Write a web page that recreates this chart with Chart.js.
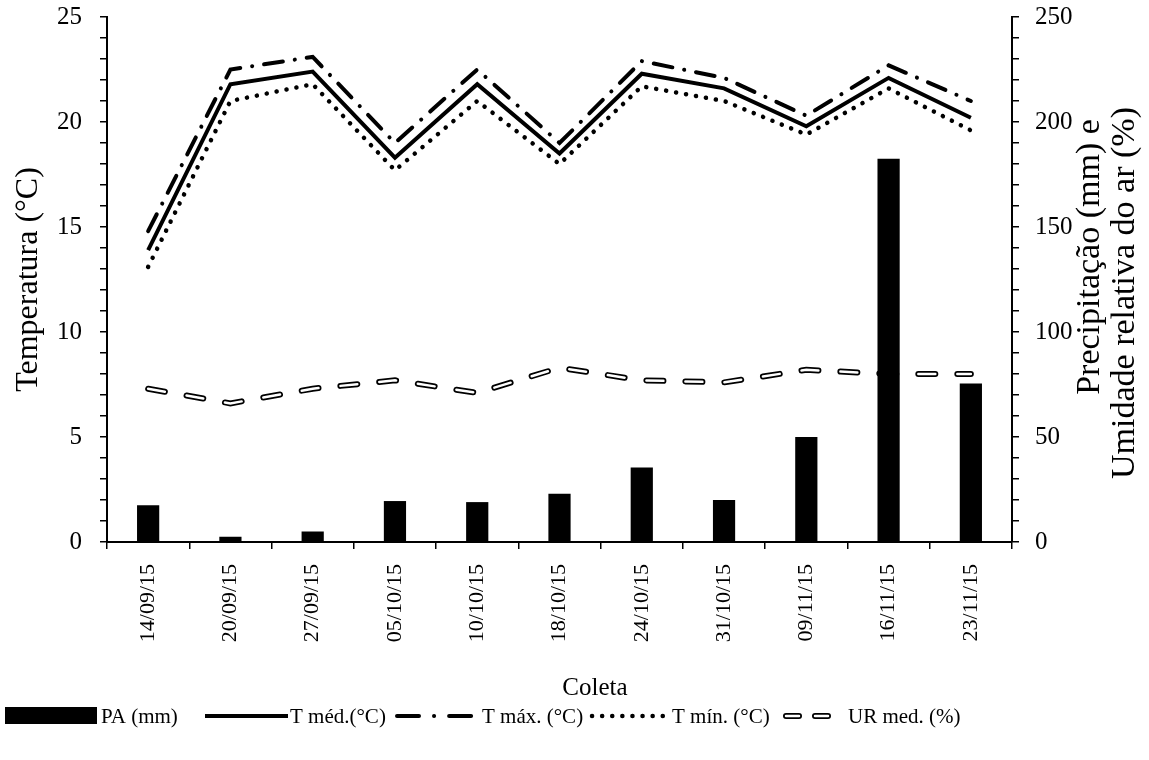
<!DOCTYPE html>
<html>
<head>
<meta charset="utf-8">
<script src="https://cdn.jsdelivr.net/npm/chart.js@4.4.1/dist/chart.umd.min.js"></script>
<style>
  html, body { margin: 0; padding: 0; background: #fff; }
  #wrap { width: 1149px; height: 760px; position: relative; }
</style>
</head>
<body>
<div id="wrap"><canvas id="myChart"></canvas></div>
<script>
// Collection dates
const coletas = ['14/09/15', '20/09/15', '27/09/15', '05/10/15', '10/10/15', '18/10/15',
  '24/10/15', '31/10/15', '09/11/15', '16/11/15', '23/11/15']

// Precipitation (mm) and mean relative humidity (%) - right axis
const pa = [17.5, 2.5, 5, 19.5, 19, 23, 35.5, 20, 50, 182.5, 75.5]
const urMed = [73, 66, 73, 77, 71, 83, 77, 76, 82, 80, 80]

// Temperatures (°C) - left axis
const tMed = [13.9, 21.8, 22.4, 18.3, 21.8, 18.5, 22.3, 21.6, 19.8, 22.1, 20.2]
const tMax = [14.8, 22.5, 23.1, 19.0, 22.5, 19.0, 22.9, 22.1, 20.3, 22.7, 21.0]
const tMin = [13.1, 21.0, 21.8, 17.7, 21.0, 18.0, 21.7, 21.0, 19.4, 21.6, 19.6]

const tempTicks = [0, 5, 10, 15, 20, 25]
const rightTicks = [0, 50, 100, 150, 200, 250]

const serif = "'Liberation Serif', 'Times New Roman', serif"

// right axis title reads bottom-to-top, x axis title sits right of centre
const titlesPlugin = {
  id: 'extraTitles',
  afterDraw (chart) {
    const { ctx } = chart
    const lines = [
      { text: 'Precipitação (mm) e', x: 1090, y: 257 },
      { text: 'Umidade relativa do ar (%)', x: 1125, y: 293 }
    ]
    ctx.save()
    ctx.fillStyle = '#000'
    ctx.textAlign = 'center'
    ctx.textBaseline = 'middle'
    ctx.font = '34px ' + serif
    lines.forEach(l => {
      ctx.save()
      ctx.translate(l.x, l.y)
      ctx.rotate(-Math.PI / 2)
      ctx.fillText(l.text, 0, 0)
      ctx.restore()
    })
    ctx.font = '25px ' + serif
    ctx.fillText('Coleta', 595, 688)
    ctx.restore()
  }
}

// legend at the bottom with line samples
const legendItems = [
  { label: 'PA (mm)', kind: 'box', x: 5, w: 92, tx: 101 },
  { label: 'T méd.(°C)', kind: 'line', ds: 1, x: 205, w: 83, tx: 290 },
  { label: 'T máx. (°C)', kind: 'line', ds: 2, x: 397, w: 83, tx: 482, dash: [22, 15, 0.1, 15] },
  { label: 'T mín. (°C)', kind: 'line', ds: 3, x: 592, w: 76, tx: 672 },
  { label: 'UR med. (%)', kind: 'double', ds: 4, x: 786, w: 42, tx: 848, dash: [13, 16] }
]

function strokeSample (ctx, ds, x0, x1, y, dash) {
  ctx.beginPath()
  ctx.lineWidth = ds.borderWidth
  ctx.strokeStyle = ds.borderColor
  ctx.lineCap = ds.borderCapStyle || 'butt'
  ctx.setLineDash(dash || ds.borderDash || [])
  ctx.moveTo(x0, y)
  ctx.lineTo(x1, y)
  ctx.stroke()
}

const legendPlugin = {
  id: 'bottomLegend',
  afterDraw (chart) {
    const ctx = chart.ctx
    const dsets = chart.data.datasets
    const y = 716
    ctx.save()
    ctx.font = '21px ' + serif
    ctx.textBaseline = 'middle'
    legendItems.forEach(it => {
      ctx.fillStyle = '#000'
      if (it.kind === 'box') {
        ctx.fillRect(it.x, y - 9, it.w, 17)
      } else if (it.kind === 'line') {
        strokeSample(ctx, dsets[it.ds], it.x, it.x + it.w, y, it.dash)
      } else {
        strokeSample(ctx, dsets[it.ds], it.x, it.x + it.w, y, it.dash)
        strokeSample(ctx, dsets[it.ds + 1], it.x, it.x + it.w, y, it.dash)
      }
      ctx.fillStyle = '#000'
      ctx.fillText(it.label, it.tx, y + 1)
    })
    ctx.restore()
  }
}

// fixed axis box sizes, no extra room for the end labels
function fixWidth (w) {
  return scale => {
    scale.width = w
    scale.paddingTop = 0
    scale.paddingBottom = 0
  }
}

const ctx = document.getElementById('myChart')
const myChart = new Chart(ctx, {
  type: 'bar',
  data: {
    labels: coletas,
    datasets: [
      {
        label: 'PA (mm)',
        data: pa,
        yAxisID: 'y1',
        backgroundColor: '#000',
        barPercentage: 0.27,
        categoryPercentage: 1,
        order: 0
      },
      {
        type: 'line',
        label: 'T méd.(°C)',
        data: tMed,
        yAxisID: 'y',
        borderColor: '#000',
        borderWidth: 4,
        pointRadius: 0,
        tension: 0,
        order: 1
      },
      {
        type: 'line',
        label: 'T máx. (°C)',
        data: tMax,
        yAxisID: 'y',
        borderColor: '#000',
        borderWidth: 4,
        borderDash: [19, 12, 0.1, 12],
        borderCapStyle: 'round',
        pointRadius: 0,
        tension: 0,
        order: 1
      },
      {
        type: 'line',
        label: 'T mín. (°C)',
        data: tMin,
        yAxisID: 'y',
        borderColor: '#000',
        borderWidth: 4.5,
        borderDash: [0.1, 10],
        borderCapStyle: 'round',
        pointRadius: 0,
        tension: 0,
        order: 1
      },
      {
        type: 'line',
        label: 'UR med. (%)',
        data: urMed,
        yAxisID: 'y1',
        borderColor: '#000',
        borderWidth: 6,
        borderDash: [17, 22],
        borderCapStyle: 'round',
        pointRadius: 0,
        tension: 0,
        order: 2
      },
      {
        type: 'line',
        label: 'UR med. inner',
        data: urMed,
        yAxisID: 'y1',
        borderColor: '#fff',
        borderWidth: 2.5,
        borderDash: [17, 22],
        borderCapStyle: 'round',
        pointRadius: 0,
        tension: 0,
        order: 1
      }
    ]
  },
  plugins: [titlesPlugin, legendPlugin],
  options: {
    responsive: true,
    maintainAspectRatio: false,
    animation: false,
    layout: { padding: { top: 17, bottom: 60, left: 0, right: 0 } },
    plugins: {
      legend: { display: false },
      tooltip: { enabled: false }
    },
    scales: {
      x: {
        offset: true,
        grid: { offset: true, drawOnChartArea: false, tickLength: 7, color: '#000', lineWidth: 1.5 },
        border: { color: '#000', width: 2 },
        ticks: {
          color: '#000',
          font: { family: serif, size: 22 },
          minRotation: 90,
          maxRotation: 90,
          autoSkip: false,
          padding: 15
        },
        afterFit (scale) { scale.height = 158 }
      },
      y: {
        position: 'left',
        min: 0,
        max: 25,
        grid: { drawOnChartArea: false, tickLength: 7, color: '#000', lineWidth: 1.5 },
        border: { color: '#000', width: 2 },
        ticks: {
          stepSize: 1,
          autoSkip: false,
          color: '#000',
          padding: 18,
          font: { family: serif, size: 25 },
          callback: v => tempTicks.includes(v) ? String(v) : ''
        },
        title: {
          display: true,
          text: 'Temperatura (°C)',
          color: '#000',
          font: { family: serif, size: 32, lineHeight: 1.2 },
          padding: { top: 9, bottom: 0 }
        },
        afterFit: fixWidth(107)
      },
      y1: {
        position: 'right',
        min: 0,
        max: 250,
        grid: { drawOnChartArea: false, tickLength: 7, color: '#000', lineWidth: 1.5 },
        border: { color: '#000', width: 2 },
        ticks: {
          stepSize: 10,
          autoSkip: false,
          color: '#000',
          padding: 16,
          font: { family: serif, size: 25 },
          callback: v => rightTicks.includes(v) ? String(v) : ''
        },
        afterFit: fixWidth(137)
      }
    }
  }
})
</script>
</body>
</html>
